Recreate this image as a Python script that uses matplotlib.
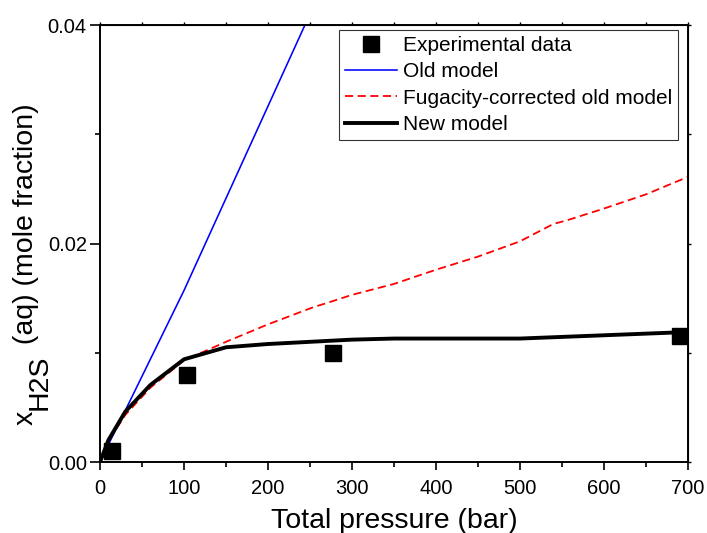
import numpy as np
import matplotlib
matplotlib.use("Agg")
import matplotlib.pyplot as plt
from matplotlib.ticker import MultipleLocator

plt.rcParams['font.family'] = ['Liberation Sans', 'DejaVu Sans']

# Experimental data
exp_p = [14, 104, 277, 690]
exp_x = [0.0010, 0.0080, 0.0100, 0.0115]

# Old model
old_p = [0, 10, 30, 100, 244]
old_x = [0.0, 0.0016, 0.0047, 0.0157, 0.0400]

# Fugacity-corrected old model
fug_p = [0, 10, 30, 60, 100, 150, 200, 255, 270, 300, 350, 400, 450, 500, 540, 555, 600, 650, 700]
fug_x = [0.0, 0.0019, 0.0043, 0.0068, 0.0093, 0.0110, 0.0126, 0.0142, 0.01455, 0.0153, 0.0163,
         0.0176, 0.0188, 0.0202, 0.0218, 0.0221, 0.0232, 0.0245, 0.0261]

# New model
new_p = [0, 10, 30, 60, 100, 150, 200, 300, 350, 500, 700]
new_x = [0.0, 0.0020, 0.0046, 0.00705, 0.0094, 0.0105, 0.0108, 0.0112, 0.0113, 0.0113, 0.0119]

W, H = 707, 533
fig = plt.figure(figsize=(W / 100, H / 100), dpi=100)
ax = fig.add_axes([100 / W, 1 - 462 / H, 588 / W, 437 / H])

ax.plot(exp_p, exp_x, 's', color='black', markersize=11, label='Experimental data', zorder=5)
ax.plot(old_p, old_x, '-', color='#0000ff', lw=1.15, label='Old model')
ax.plot(fug_p, fug_x, '--', color='#ff0000', lw=1.3, dashes=(4.5, 2.5),
        label='Fugacity-corrected old model')
ax.plot(new_p, new_x, '-', color='black', lw=2.8, label='New model')

ax.set_xlim(0, 700)
ax.set_ylim(0, 0.04)
ax.xaxis.set_major_locator(MultipleLocator(100))
ax.xaxis.set_minor_locator(MultipleLocator(50))
ax.yaxis.set_major_locator(MultipleLocator(0.02))
ax.yaxis.set_minor_locator(MultipleLocator(0.01))
ax.yaxis.set_major_formatter(plt.FuncFormatter(lambda v, p: f"{v:.2f}"))

ax.tick_params(which='both', direction='out', labelsize=14.5, width=1.2)
ax.tick_params(axis='y', which='major', length=7.5, pad=2)
ax.tick_params(axis='x', which='major', length=5.5, pad=7)
ax.tick_params(which='minor', length=3.5)
for s in ax.spines.values():
    s.set_linewidth(1.4)

# tiny ticks on top and right spines
top = ax.secondary_xaxis('top')
top.xaxis.set_major_locator(MultipleLocator(50))
top.tick_params(length=2, width=1.0, labeltop=False)
right = ax.secondary_yaxis('right')
right.yaxis.set_major_locator(MultipleLocator(0.01))
right.tick_params(length=2, width=1.0, labelright=False)

ax.set_xlabel('Total pressure (bar)', fontsize=20.5, labelpad=7)

# y label: x with a full-size, lowered "H2S"
fs = 20.5
t1 = fig.text(33 / W, 108 / H, 'x', fontsize=fs, rotation=90, rotation_mode='anchor',
              ha='left', va='baseline')
fig.canvas.draw()
r = fig.canvas.get_renderer()
b1 = t1.get_window_extent(r)
t2 = fig.text(47 / W, (b1.y1 + 1) / H, 'H2S', fontsize=fs, rotation=90, rotation_mode='anchor',
              ha='left', va='baseline')
b2 = t2.get_window_extent(r)
fig.text(33 / W, (b2.y1 + 2) / H, ' (aq) (mole fraction)', fontsize=fs, rotation=90,
         rotation_mode='anchor', ha='left', va='baseline')

leg = ax.legend(loc='upper right', bbox_to_anchor=(0.983, 0.989), fontsize=15, frameon=True,
                fancybox=False, edgecolor='black', handlelength=2.5, handletextpad=0.25,
                borderpad=0.3, labelspacing=0.35, borderaxespad=0)
leg.get_frame().set_linewidth(0.8)

fig.savefig('out.png', dpi=100)
